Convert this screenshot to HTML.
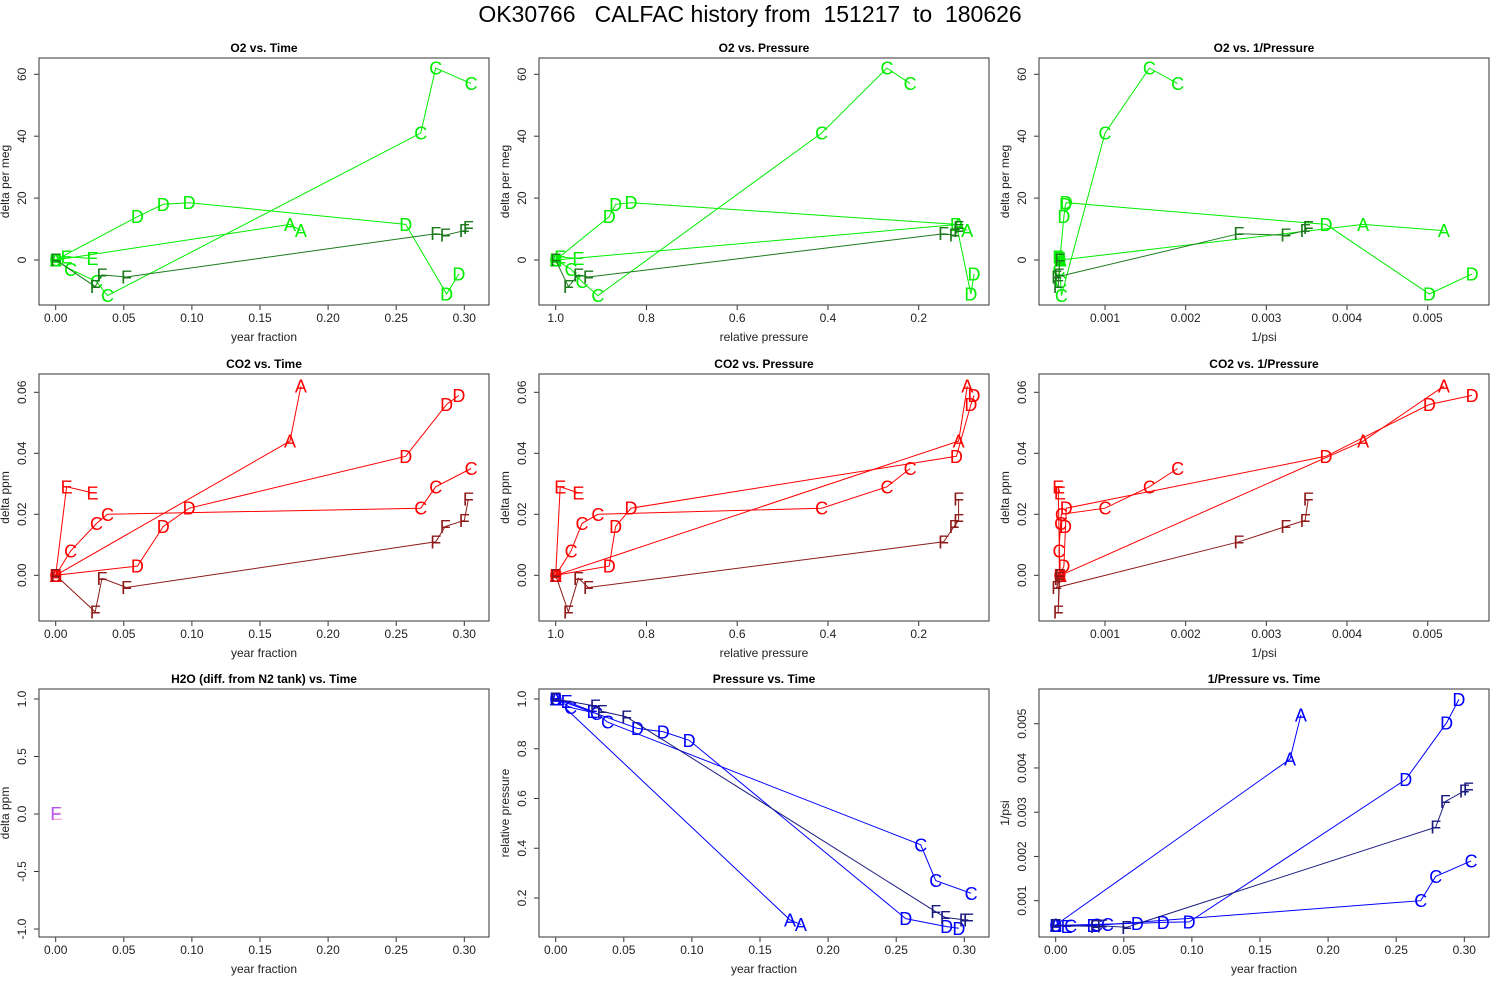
<!DOCTYPE html>
<html><head><meta charset="utf-8"><style>
html,body{margin:0;padding:0;background:#fff;}
svg{display:block;font-family:"Liberation Sans",sans-serif;}
</style></head><body>
<svg id="chart" width="1500" height="1000" viewBox="0 0 1500 1000" xmlns="http://www.w3.org/2000/svg">
<text x="750" y="22" text-anchor="middle" font-size="23" fill="#000" style="white-space:pre" xml:space="preserve">OK30766   CALFAC history from  151217  to  180626</text>
</svg>
<script>
// ---- data per tank series ----
const seriesNames = ["A","B","C","D","E","F"];
const timeA = [0,0.172,0.18];
const o2A = [0,11.5,9.5];
const co2A = [0,0.044,0.062];
const presA = [1,0.112,0.093];
const invpA = [0.00045,0.0042,0.0052];

const timeB = [0];
const o2B = [0];
const co2B = [0];
const presB = [1];
const invpB = [0.00044];

const timeC = [0,0.011,0.03,0.038,0.268,0.279,0.305];
const o2C = [0,-3,-7,-11.5,41,62,57];
const co2C = [0,0.008,0.017,0.020,0.022,0.029,0.035];
const presC = [1,0.966,0.942,0.907,0.414,0.27,0.219];
const invpC = [0.00044,0.00043,0.00045,0.00046,0.001,0.00155,0.0019];

const timeD = [0,0.06,0.079,0.098,0.257,0.287,0.296];
const o2D = [0,14,18,18.5,11.5,-11,-4.5];
const co2D = [0,0.003,0.016,0.022,0.039,0.056,0.059];
const presD = [1,0.882,0.868,0.834,0.117,0.085,0.078];
const invpD = [0.00044,0.00049,0.00051,0.00052,0.00374,0.00502,0.00555];

const timeE = [0,0.008,0.027];
const o2E = [0,1,0.5];
const co2E = [0,0.029,0.027];
const presE = [1,0.99,0.95];
const invpE = [0.00044,0.00042,0.00044];

const timeF = [0,0.029,0.034,0.052,0.279,0.286,0.300,0.303];
const o2F = [0,-8.6,-4.8,-5.5,8.5,8,9.5,10.5];
const co2F = [0,-0.012,-0.001,-0.004,0.011,0.016,0.018,0.025];
const presF = [1,0.972,0.95,0.928,0.145,0.122,0.112,0.112];
const invpF = [0.00044,0.00042,0.00043,0.0004,0.00266,0.00324,0.00348,0.00352];

const h2oTime = [0];
const h2oVal = [0];

const timeTicks = [0,0.05,0.10,0.15,0.20,0.25,0.30];
const timeTickLabels = ["0.00","0.05","0.10","0.15","0.20","0.25","0.30"];
const presTicks = [1.0,0.8,0.6,0.4,0.2];
const presTickLabels = ["1.0","0.8","0.6","0.4","0.2"];
const invpTicks = [0.001,0.002,0.003,0.004,0.005];
const invpTickLabels = ["0.001","0.002","0.003","0.004","0.005"];
const o2Ticks = [0,20,40,60];
const o2TickLabels = ["0","20","40","60"];
const co2Ticks = [0,0.02,0.04,0.06];
const co2TickLabels = ["0.00","0.02","0.04","0.06"];
const h2oTicks = [-1,-0.5,0,0.5,1];
const h2oTickLabels = ["-1.0","-0.5","0.0","0.5","1.0"];
const presYTicks = [0.2,0.4,0.6,0.8,1.0];
const presYTickLabels = ["0.2","0.4","0.6","0.8","1.0"];

const S = {
  A:{t:timeA,o2:o2A,co2:co2A,p:presA,ip:invpA},
  B:{t:timeB,o2:o2B,co2:co2B,p:presB,ip:invpB},
  C:{t:timeC,o2:o2C,co2:co2C,p:presC,ip:invpC},
  D:{t:timeD,o2:o2D,co2:co2D,p:presD,ip:invpD},
  E:{t:timeE,o2:o2E,co2:co2E,p:presE,ip:invpE},
  F:{t:timeF,o2:o2F,co2:co2F,p:presF,ip:invpF}
};

const NS="http://www.w3.org/2000/svg";
const svg=document.getElementById('chart');
function el(tag,attrs,parent){const e=document.createElementNS(NS,tag);for(const k in attrs)e.setAttribute(k,attrs[k]);(parent||svg).appendChild(e);return e;}
function lin(v0,p0,v1,p1){return v=>p0+(v-v0)*(p1-p0)/(v1-v0);}

const colX=[0,500,1000];
const rowY=[[58,305],[374,621],[689,937]];
function timeScale(c){return lin(0,55.7+colX[c],0.30,464.3+colX[c]);}
const presScale=lin(1.0,555.7,0.2,918.7);
const invpScale=lin(0.001,1105,0.005,1427.7);

const panels=[
 {title:"O2 vs. Time",c:0,r:0,xs:timeScale(0),ys:lin(0,260,60,74.3),xf:"t",yf:"o2",xt:timeTicks,xl:timeTickLabels,yt:o2Ticks,yl:o2TickLabels,xlab:"year fraction",ylab:"delta per meg",col:"#00ee00",fcol:"#1c7a1c"},
 {title:"O2 vs. Pressure",c:1,r:0,xs:presScale,ys:lin(0,260,60,74.3),xf:"p",yf:"o2",xt:presTicks,xl:presTickLabels,yt:o2Ticks,yl:o2TickLabels,xlab:"relative pressure",ylab:"delta per meg",col:"#00ee00",fcol:"#1c7a1c"},
 {title:"O2 vs. 1/Pressure",c:2,r:0,xs:invpScale,ys:lin(0,260,60,74.3),xf:"ip",yf:"o2",xt:invpTicks,xl:invpTickLabels,yt:o2Ticks,yl:o2TickLabels,xlab:"1/psi",ylab:"delta per meg",col:"#00ee00",fcol:"#1c7a1c"},
 {title:"CO2 vs. Time",c:0,r:1,xs:timeScale(0),ys:lin(0,575.3,0.06,392.3),xf:"t",yf:"co2",xt:timeTicks,xl:timeTickLabels,yt:co2Ticks,yl:co2TickLabels,xlab:"year fraction",ylab:"delta ppm",col:"#ff0000",fcol:"#8e1a1a"},
 {title:"CO2 vs. Pressure",c:1,r:1,xs:presScale,ys:lin(0,575.3,0.06,392.3),xf:"p",yf:"co2",xt:presTicks,xl:presTickLabels,yt:co2Ticks,yl:co2TickLabels,xlab:"relative pressure",ylab:"delta ppm",col:"#ff0000",fcol:"#8e1a1a"},
 {title:"CO2 vs. 1/Pressure",c:2,r:1,xs:invpScale,ys:lin(0,575.3,0.06,392.3),xf:"ip",yf:"co2",xt:invpTicks,xl:invpTickLabels,yt:co2Ticks,yl:co2TickLabels,xlab:"1/psi",ylab:"delta ppm",col:"#ff0000",fcol:"#8e1a1a"},
 {title:"H2O (diff. from N2 tank) vs. Time",c:0,r:2,xs:timeScale(0),ys:lin(0,814,1,699),xf:null,xt:timeTicks,xl:timeTickLabels,yt:h2oTicks,yl:h2oTickLabels,xlab:"year fraction",ylab:"delta ppm"},
 {title:"Pressure vs. Time",c:1,r:2,xs:timeScale(1),ys:lin(1.0,699,0.2,898),xf:"t",yf:"p",xt:timeTicks,xl:timeTickLabels,yt:presYTicks,yl:presYTickLabels,xlab:"year fraction",ylab:"relative pressure",col:"#0000ff",fcol:"#1c1c80"},
 {title:"1/Pressure vs. Time",c:2,r:2,xs:timeScale(2),ys:lin(0.001,900.7,0.005,723.7),xf:"t",yf:"ip",xt:timeTicks,xl:timeTickLabels,yt:invpTicks,yl:invpTickLabels,xlab:"year fraction",ylab:"1/psi",col:"#0000ff",fcol:"#1c1c80"}
];

panels.forEach((P,i)=>{
  const x0=39+colX[P.c], x1=489+colX[P.c], y0=rowY[P.r][0], y1=rowY[P.r][1];
  const slug=P.title.toLowerCase().replace(/[^a-z0-9]+/g,'-').replace(/-+$/,'');
  const g=el('g',{});
  
  
  const t=el('text',{x:(x0+x1)/2,y:y0-6,'text-anchor':'middle','font-size':12,'font-weight':'bold',fill:'#000'},g);
  t.textContent=P.title;
  
  
  P.xt.forEach((v,k)=>{
    const px=P.xs(v);
    el('line',{x1:px,y1:y1,x2:px,y2:y1+5,stroke:'#333','stroke-width':1},g);
    const tl=el('text',{x:px,y:y1+17,'text-anchor':'middle','font-size':12,fill:'#222'},g);
    tl.textContent=P.xl[k];
    
    
  });
  el('line',{x1:P.xs(P.xt[0]),y1:y1,x2:P.xs(P.xt[P.xt.length-1]),y2:y1,stroke:'#333','stroke-width':1},g);
  const xl=el('text',{x:(x0+x1)/2,y:y1+36,'text-anchor':'middle','font-size':12,fill:'#222'},g);
  xl.textContent=P.xlab;
  
  
  P.yt.forEach((v,k)=>{
    const py=P.ys(v);
    el('line',{x1:x0-5,y1:py,x2:x0,y2:py,stroke:'#333','stroke-width':1},g);
    const tl=el('text',{x:x0-13,y:py,'text-anchor':'middle','font-size':12,fill:'#222',transform:`rotate(-90 ${x0-13} ${py})`},g);
    tl.textContent=P.yl[k];
    
    
  });
  const yl=el('text',{x:x0-30,y:(y0+y1)/2,'text-anchor':'middle','font-size':12,fill:'#222',transform:`rotate(-90 ${x0-30} ${(y0+y1)/2})`},g);
  yl.textContent=P.ylab;
  
  
  const box=el('rect',{x:x0,y:y0,width:x1-x0,height:y1-y0,fill:'none',stroke:'#555','stroke-width':1.2},g);
  
  
  if(!P.xf){
    const cols=['#ffb0d8','#a040f0'];
    ['E','F'].forEach((nm,k)=>{
      const m=el('text',{x:P.xs(h2oTime[0])+(k?0:1),y:P.ys(h2oVal[0])+6,'text-anchor':'middle','font-size':18,fill:cols[k],'fill-opacity':k?0.8:1},g);
      m.textContent=nm;
      
      
    });
    return;
  }
  seriesNames.forEach(nm=>{
    const s=S[nm], c=(nm==='F')?P.fcol:P.col;
    const xs=s[P.xf], ys=s[P.yf];
    const pts=xs.map((v,k)=>P.xs(v).toFixed(1)+','+P.ys(ys[k]).toFixed(1)).join(' ');
    if(xs.length>1){
      const pl=el('polyline',{points:pts,fill:'none',stroke:c,'stroke-width':1},g);
      
      
    }
    xs.forEach((v,k)=>{
      const m=el('text',{x:P.xs(v),y:P.ys(ys[k])+6.5,'text-anchor':'middle','font-size':18,fill:c},g);
      m.textContent=nm;
      
      
    });
  });
});
</script>
</body></html>
